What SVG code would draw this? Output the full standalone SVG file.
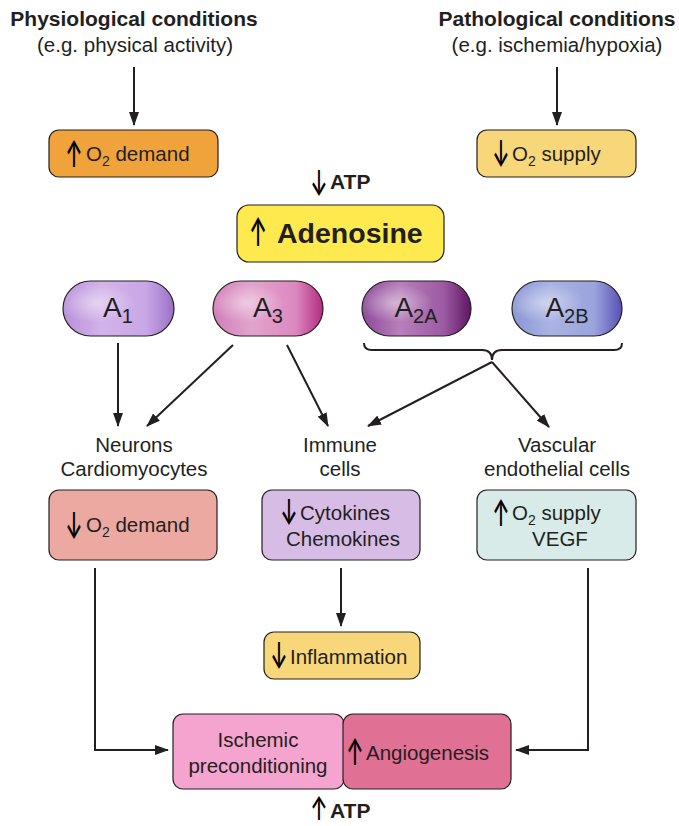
<svg xmlns="http://www.w3.org/2000/svg" width="679" height="826" viewBox="0 0 679 826">
<defs>
<style>
text{font-family:"Liberation Sans",Arial,sans-serif;fill:#231f20}
.h{font-size:21px;font-weight:bold}
.t{font-size:20.5px}
.ar{font-family:Inter,"DejaVu Sans",sans-serif;font-weight:500;font-size:27px;fill:#000;text-anchor:middle}
.s{font-size:14px}
.box{stroke:#231f20;stroke-width:1.2}
.ln{fill:none;stroke:#231f20;stroke-width:2}
.pill{stroke:#231f20;stroke-width:1.2}
.rl{font-size:28px}
.sub{font-size:20px}
</style>
<marker id="ah" viewBox="0 0 14 10" refX="13" refY="5" markerWidth="14" markerHeight="10" markerUnits="userSpaceOnUse" orient="auto">
<path d="M0,0 L14,5 L0,10 Z" fill="#231f20"/>
</marker>
<linearGradient id="g1" x1="0" x2="1" y1="0" y2="0">
<stop offset="0" stop-color="#b890d8"/><stop offset="0.35" stop-color="#d3b3ea"/><stop offset="0.75" stop-color="#c9a6e6"/><stop offset="1" stop-color="#9a70c6"/>
</linearGradient>
<linearGradient id="g3" x1="0" x2="1" y1="0" y2="0">
<stop offset="0" stop-color="#d17cb8"/><stop offset="0.35" stop-color="#e2a4cc"/><stop offset="0.75" stop-color="#dc88c0"/><stop offset="1" stop-color="#b32c80"/>
</linearGradient>
<linearGradient id="g2a" x1="0" x2="1" y1="0" y2="0">
<stop offset="0" stop-color="#8d4a98"/><stop offset="0.35" stop-color="#b77fbb"/><stop offset="0.75" stop-color="#9c5aa2"/><stop offset="1" stop-color="#5e1662"/>
</linearGradient>
<linearGradient id="g2b" x1="0" x2="1" y1="0" y2="0">
<stop offset="0" stop-color="#8a96d4"/><stop offset="0.35" stop-color="#aab3e2"/><stop offset="0.75" stop-color="#9aa3dc"/><stop offset="1" stop-color="#5750b4"/>
</linearGradient>
<radialGradient id="hl" cx="0.3" cy="0.4" r="0.35">
<stop offset="0" stop-color="#ffffff" stop-opacity="0.45"/><stop offset="1" stop-color="#ffffff" stop-opacity="0"/>
</radialGradient>
</defs>
<rect width="679" height="826" fill="#ffffff"/>

<g id="physio">
<text class="h" x="134" y="26" text-anchor="middle">Physiological conditions</text>
<text class="t" x="135" y="52" text-anchor="middle">(e.g. physical activity)</text>
</g>
<g id="patho">
<text class="h" x="557" y="26" text-anchor="middle">Pathological conditions</text>
<text class="t" x="557" y="52" text-anchor="middle">(e.g. ischemia/hypoxia)</text>
</g>

<g id="o2demand-up">
<rect class="box" x="49" y="130" width="169" height="47" rx="10" fill="#f0a23b"/>
<text class="ar" transform="translate(74,167) scale(0.75,1.35)">↑</text>
<text class="t" x="86" y="161">O<tspan class="s" dy="5">2</tspan><tspan dy="-5"> demand</tspan></text>
</g>
<g id="o2supply-down">
<rect class="box" x="477" y="130" width="159" height="47" rx="10" fill="#f8d77a"/>
<text class="ar" transform="translate(501,167) scale(0.75,1.35)">↓</text>
<text class="t" x="512" y="161">O<tspan class="s" dy="5">2</tspan><tspan dy="-5"> supply</tspan></text>
</g>

<g id="atp-down">
<text class="ar" transform="translate(319,196) scale(0.75,1.3)">↓</text>
<text class="h" x="330" y="189">ATP</text>
</g>
<g id="adenosine">
<rect class="box" x="237" y="205" width="207" height="57" rx="12" fill="#fee94e"/>
<text class="ar" transform="translate(258,246) scale(0.78,1.45)">↑</text>
<text x="277" y="243" font-size="28.5" font-weight="bold">Adenosine</text>
</g>

<g id="A1">
<rect class="pill" x="63" y="281" width="111" height="55" rx="27.5" fill="url(#g1)"/>
<rect x="63" y="281" width="111" height="55" rx="27.5" fill="url(#hl)"/>
<text class="rl" x="118" y="317" text-anchor="middle">A<tspan class="sub" dy="6">1</tspan></text>
</g>
<g id="A3">
<rect class="pill" x="213" y="281" width="110" height="55" rx="27.5" fill="url(#g3)"/>
<rect x="213" y="281" width="110" height="55" rx="27.5" fill="url(#hl)"/>
<text class="rl" x="268" y="317" text-anchor="middle">A<tspan class="sub" dy="6">3</tspan></text>
</g>
<g id="A2A">
<rect class="pill" x="362" y="281" width="109" height="55" rx="27.5" fill="url(#g2a)"/>
<rect x="362" y="281" width="109" height="55" rx="27.5" fill="url(#hl)"/>
<text class="rl" x="416" y="317" text-anchor="middle">A<tspan class="sub" dy="6">2A</tspan></text>
</g>
<g id="A2B">
<rect class="pill" x="512" y="281" width="110" height="55" rx="27.5" fill="url(#g2b)"/>
<rect x="512" y="281" width="110" height="55" rx="27.5" fill="url(#hl)"/>
<text class="rl" x="567" y="317" text-anchor="middle">A<tspan class="sub" dy="6">2B</tspan></text>
</g>

<g id="neurons">
<text class="t" x="134" y="452" text-anchor="middle">Neurons</text>
<text class="t" x="134" y="476" text-anchor="middle">Cardiomyocytes</text>
</g>
<g id="immune">
<text class="t" x="340" y="452" text-anchor="middle">Immune</text>
<text class="t" x="340" y="476" text-anchor="middle">cells</text>
</g>
<g id="vascular">
<text class="t" x="557" y="452" text-anchor="middle">Vascular</text>
<text class="t" x="557" y="476" text-anchor="middle">endothelial cells</text>
</g>

<g id="o2demand-down">
<rect class="box" x="49" y="490" width="168" height="70" rx="10" fill="#eba9a2"/>
<text class="ar" transform="translate(74,539) scale(0.75,1.35)">↓</text>
<text class="t" x="86" y="532">O<tspan class="s" dy="5">2</tspan><tspan dy="-5"> demand</tspan></text>
</g>
<g id="cytokines">
<rect class="box" x="262" y="490" width="158" height="70" rx="10" fill="#d7bce5"/>
<text class="ar" transform="translate(289,525) scale(0.75,1.3)">↓</text>
<text class="t" x="300" y="520">Cytokines</text>
<text class="t" x="343" y="546" text-anchor="middle">Chemokines</text>
</g>
<g id="o2supply-up">
<rect class="box" x="477" y="490" width="159" height="70" rx="10" fill="#d8ebe8"/>
<text class="ar" transform="translate(501,526) scale(0.75,1.35)">↑</text>
<text class="t" x="512" y="520">O<tspan class="s" dy="5">2</tspan><tspan dy="-5"> supply</tspan></text>
<text class="t" x="560" y="546" text-anchor="middle">VEGF</text>
</g>

<g id="inflammation">
<rect class="box" x="264" y="632" width="156" height="47" rx="10" fill="#f8d77a"/>
<text class="ar" transform="translate(279,669) scale(0.75,1.35)">↓</text>
<text class="t" x="290" y="664">Inflammation</text>
</g>

<g id="ischemic">
<rect class="box" x="173" y="714" width="171" height="75" rx="10" fill="#f5a3cf"/>
<text class="t" x="258" y="747" text-anchor="middle">Ischemic</text>
<text class="t" x="258" y="773" text-anchor="middle">preconditioning</text>
</g>
<g id="angiogenesis">
<rect class="box" x="343" y="714" width="168" height="75" rx="10" fill="#e07094"/>
<text class="ar" transform="translate(355,765) scale(0.75,1.35)">↑</text>
<text class="t" x="366" y="760">Angiogenesis</text>
</g>
<g id="atp-up">
<text class="ar" transform="translate(319,820) scale(0.75,1.2)">↑</text>
<text class="h" x="330" y="818">ATP</text>
</g>

<g id="connectors">
<line class="ln" x1="134" y1="67" x2="134" y2="125" marker-end="url(#ah)"/>
<line class="ln" x1="557" y1="67" x2="557" y2="125" marker-end="url(#ah)"/>
<line class="ln" x1="118" y1="343" x2="118" y2="426" marker-end="url(#ah)"/>
<line class="ln" x1="233" y1="345" x2="147" y2="426" marker-end="url(#ah)"/>
<line class="ln" x1="287" y1="345" x2="328" y2="426" marker-end="url(#ah)"/>
<path class="ln" d="M364,343 Q364,350 372,350 L482,350 Q492,350 492,360 Q492,350 502,350 L614,350 Q622,350 622,343"/>
<line class="ln" x1="492" y1="362" x2="368" y2="426" marker-end="url(#ah)"/>
<line class="ln" x1="492" y1="362" x2="549" y2="427" marker-end="url(#ah)"/>
<path class="ln" d="M95,568 L95,750 L168,750" marker-end="url(#ah)"/>
<line class="ln" x1="341" y1="568" x2="341" y2="626" marker-end="url(#ah)"/>
<path class="ln" d="M588,568 L588,750 L516,750" marker-end="url(#ah)"/>
</g>
</svg>
